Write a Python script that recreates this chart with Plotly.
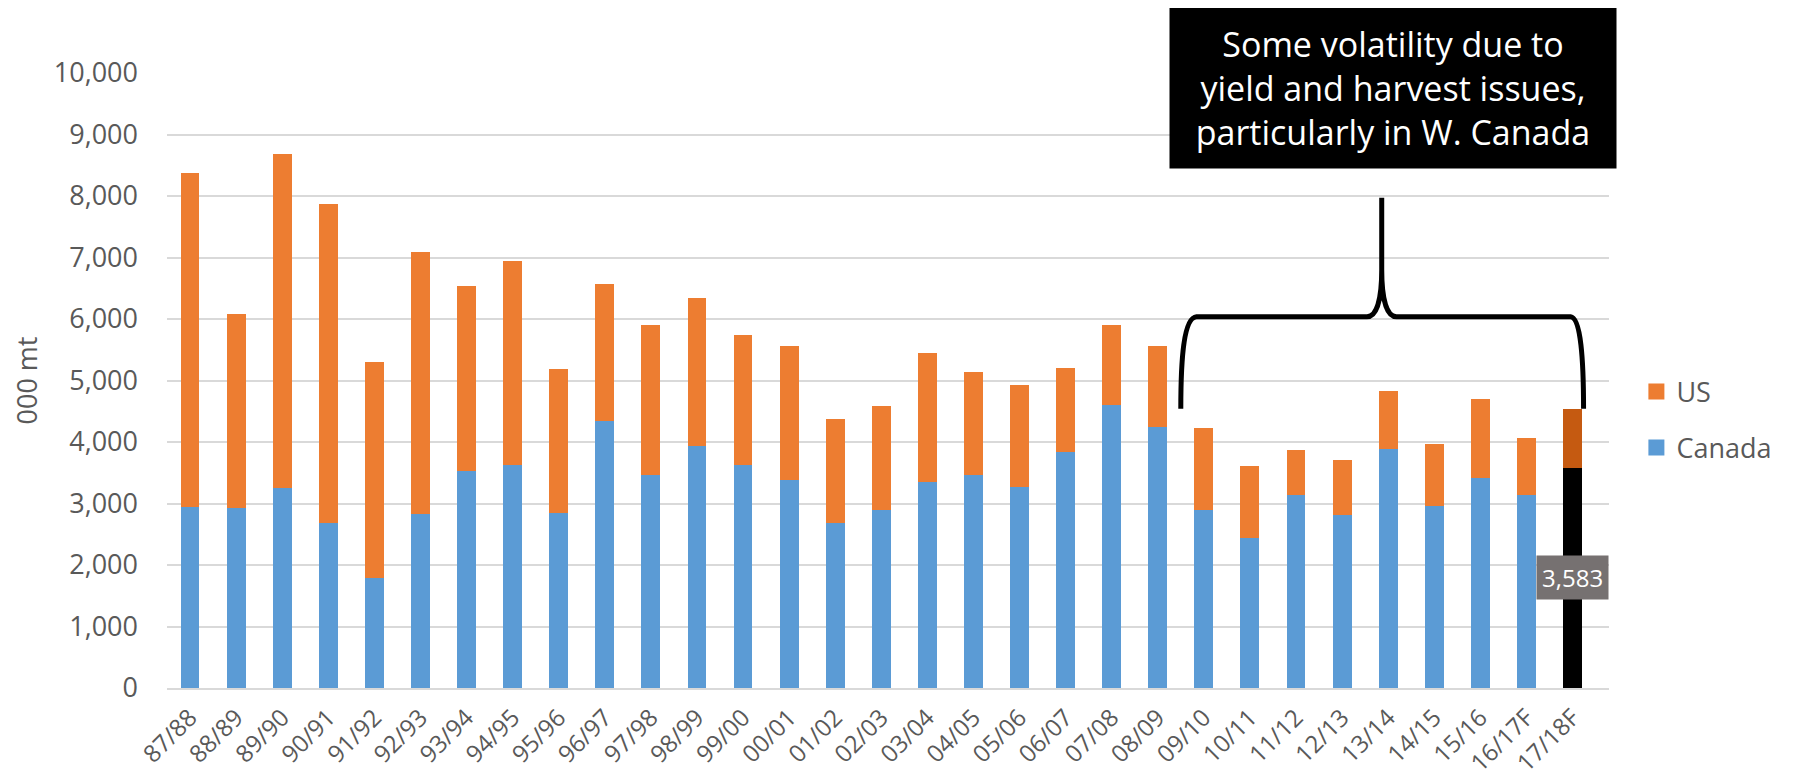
import plotly.graph_objects as go

seasons = [
    "87/88", "88/89", "89/90", "90/91", "91/92", "92/93", "93/94", "94/95",
    "95/96", "96/97", "97/98", "98/99", "99/00", "00/01", "01/02", "02/03",
    "03/04", "04/05", "05/06", "06/07", "07/08", "08/09", "09/10", "10/11",
    "11/12", "12/13", "13/14", "14/15", "15/16", "16/17F", "17/18F",
]
canada = [
    2945, 2920, 3255, 2680, 1785, 2825, 3530, 3620, 2840, 4345, 3470, 3940,
    3630, 3390, 2680, 2890, 3355, 3460, 3270, 3845, 4605, 4250, 2890, 2435,
    3140, 2805, 3890, 2965, 3410, 3135, 3583,
]
us = [
    5430, 3160, 5420, 5190, 3520, 4265, 3010, 3320, 2355, 2225, 2430, 2405,
    2110, 2165, 1700, 1695, 2100, 1675, 1665, 1355, 1305, 1305, 1330, 1180,
    735, 895, 940, 1005, 1290, 925, 950,
]
y_ticks = list(range(0, 10001, 1000))

note = "Some volatility due to<br>yield and harvest issues,<br>particularly in W. Canada"

BLUE = "#5B9BD5"
ORANGE = "#ED7D31"
GREY = "#595959"
FONT = "Open Sans"

# forecast year gets its own highlight colours
canada_colors = [BLUE] * (len(seasons) - 1) + ["#000000"]
us_colors = [ORANGE] * (len(seasons) - 1) + ["#C55A11"]

fig = go.Figure()
fig.add_trace(
    go.Bar(x=seasons, y=canada, name="Canada", marker_color=canada_colors,
           marker_line_width=0, showlegend=False)
)
fig.add_trace(
    go.Bar(x=seasons, y=us, name="US", marker_color=us_colors,
           marker_line_width=0, showlegend=False)
)
# legend swatches (US listed first, as in the stack)
for name, color in [("US", ORANGE), ("Canada", BLUE)]:
    fig.add_trace(
        go.Scatter(x=[None], y=[None], mode="markers", name=name,
                   legendgroup=name,
                   marker={"symbol": "square", "size": 20, "color": color})
    )

# data label on the forecast Canada bar
fig.add_annotation(
    x=seasons[-1], y=canada[-1] / 2, text=f"{canada[-1]:,}",
    xanchor="center", yanchor="middle",
    showarrow=False, bgcolor="#767171", borderpad=5,
    font={"color": "white", "size": 24, "family": FONT},
)

# callout box
fig.add_annotation(
    xref="paper", yref="paper", x=0.8504, y=0.976, xanchor="center",
    yanchor="middle", text=note, showarrow=False, bgcolor="#000000",
    width=446, height=160, borderpad=0, align="center",
    font={"color": "white", "size": 34, "family": FONT},
)

# curly brace spanning 09/10 .. 17/18F
brace = (
    "M 21.50,4539 C 21.50,5336 21.56,6020 21.84,6035 "
    "L 25.54,6035 C 25.75,6035 25.86,6312 25.86,6800 "
    "L 25.86,7971 M 25.86,6800 C 25.86,6312 25.97,6035 26.18,6035 "
    "L 29.96,6035 C 30.18,6020 30.24,5336 30.24,4539"
)
fig.add_shape(type="path", xref="x", yref="y", path=brace,
              line={"color": "black", "width": 5})

# page body adds an 8px offset, so the figure is sized to fit the window
fig.update_layout(
    barmode="stack",
    bargap=0.59,
    width=1794,
    height=770,
    margin={"l": 159, "r": 193, "t": 65, "b": 90},
    paper_bgcolor="white",
    plot_bgcolor="white",
    font={"family": FONT, "color": GREY, "size": 26},
    legend={
        "x": 1.019, "y": 0.436, "xanchor": "left", "yanchor": "middle",
        "traceorder": "grouped", "tracegroupgap": 18,
        "font": {"size": 27, "color": GREY}, "itemwidth": 30,
    },
)
fig.update_xaxes(
    tickangle=-45, showline=True, linecolor="#D9D9D9", linewidth=2,
    showgrid=False, tickfont={"size": 24}, ticklabelstandoff=4,
    automargin=False,
)
fig.update_yaxes(
    range=[0, 10000], tickvals=y_ticks, tickformat=",d",
    gridcolor="#D9D9D9", gridwidth=1.5, zeroline=False,
    tickfont={"size": 27}, ticklabelstandoff=28,
    title={"text": "000 mt", "font": {"size": 27}, "standoff": 10},
    automargin=False,
)

fig.write_html("out.html")
